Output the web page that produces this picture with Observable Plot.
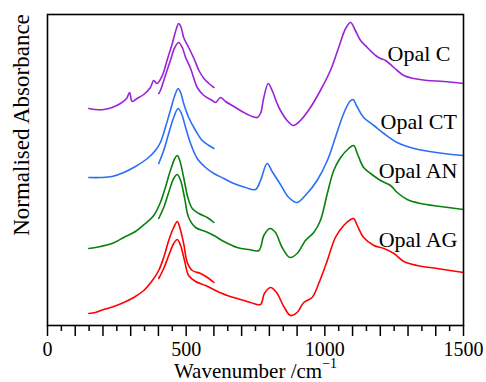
<!DOCTYPE html>
<html><head><meta charset="utf-8">
<script src="https://cdn.jsdelivr.net/npm/d3@7"></script>
<script src="https://cdn.jsdelivr.net/npm/@observablehq/plot@0.6"></script>
<style>html,body{margin:0;padding:0;background:#fff} svg{display:block}</style>
</head><body><div id="chart"></div>
<script>
// wavenumber (cm^-1), stacked normalised absorbance (arbitrary units, offset per sample)
const opalC_far = [[149,217],[173,216],[203,216],[233,218],[263,222],[285,227],[296,233],[305,224],[323,227],[347,231],[371,238],[383,245],[395,242],[414,250],[431,265],[450,282],[465,297],[473,302],[482,298],[491,288],[509,278],[528,267],[546,255],[564,247],[582,242],[600,238]];
const opalC_mid = [[401,232],[407,235],[425,250],[443,265],[459,278],[473,283],[486,278],[498,268],[516,257],[540,238],[564,230],[594,225],[606,223],[624,228],[642,224],[672,219],[708,213],[738,209],[756,208],[768,212],[780,228],[796,242],[810,235],[828,222],[840,215],[864,205],[886,200],[912,205],[948,218],[984,235],[1020,255],[1050,278],[1075,297],[1093,303],[1110,295],[1129,285],[1153,278],[1183,270],[1201,267],[1219,265],[1249,258],[1285,250],[1321,247],[1369,245],[1429,244],[1500,242]];
const opalCT_far = [[149,148],[191,148],[233,149],[275,153],[317,159],[360,167],[389,175],[407,183],[425,198],[443,215],[459,230],[471,237],[480,233],[491,222],[509,208],[534,195],[558,185],[582,180],[600,177]];
const opalCT_mid = [[401,162],[419,175],[437,192],[455,208],[471,217],[483,212],[498,198],[516,182],[540,167],[570,158],[600,152],[636,147],[672,142],[714,138],[750,136],[768,145],[792,162],[810,154],[840,141],[870,128],[900,123],[936,132],[972,145],[1009,165],[1038,188],[1068,212],[1090,224],[1102,226],[1114,220],[1140,208],[1177,200],[1213,192],[1261,183],[1309,178],[1357,175],[1429,172],[1500,170]];
const opalAN_far = [[149,77],[191,79],[233,82],[275,88],[317,94],[353,102],[383,110],[407,123],[425,138],[443,155],[459,167],[468,170],[477,165],[491,148],[506,128],[522,117],[546,112],[576,108],[600,103]];
const opalAN_mid = [[401,107],[419,118],[437,133],[455,147],[468,151],[480,145],[494,128],[509,108],[534,98],[570,94],[600,90],[636,84],[684,78],[726,76],[762,75],[780,90],[802,97],[822,93],[846,78],[874,68],[900,72],[930,85],[960,93],[984,105],[1009,132],[1032,155],[1057,168],[1086,177],[1104,180],[1117,172],[1140,158],[1165,152],[1201,145],[1237,140],[1261,133],[1297,126],[1345,122],[1417,119],[1500,116]];
const opalAG_far = [[149,12],[173,13],[203,16],[239,19],[275,23],[311,28],[347,35],[378,45],[401,55],[419,68],[437,85],[455,98],[468,104],[477,98],[491,82],[504,63],[522,55],[552,52],[582,47],[600,43]];
const opalAG_mid = [[401,47],[419,57],[437,70],[455,82],[468,86],[480,80],[494,65],[509,50],[534,44],[570,40],[606,35],[648,30],[696,26],[732,23],[768,21],[782,32],[804,38],[826,33],[852,19],[876,10],[900,13],[924,23],[954,28],[978,42],[1009,65],[1038,88],[1068,100],[1093,106],[1104,107],[1117,100],[1140,88],[1177,80],[1213,77],[1249,72],[1285,64],[1333,60],[1405,57],[1500,53]];

const seriesNames = ["Opal C", "Opal CT", "Opal AN", "Opal AG"];
const seriesColors = ["#9a22d8", "#2a6ff5", "#0a800f", "#ff0000"];
const labelX = [1226, 1201, 1194, 1194];
const labelY = [272, 204, 155, 86];
const majorTicks = d3.range(0, 1501, 100);
const minorTicks = d3.range(50, 1500, 100);
const labelTicks = [0, 500, 1000, 1500];
const xTitle = "Wavenumber /cm";
const xTitleSup = "\u22121";
const yTitle = "Normalised Absorbance";

const segments = [
  {name: "Opal C", pts: opalC_far}, {name: "Opal C", pts: opalC_mid},
  {name: "Opal CT", pts: opalCT_far}, {name: "Opal CT", pts: opalCT_mid},
  {name: "Opal AN", pts: opalAN_far}, {name: "Opal AN", pts: opalAN_mid},
  {name: "Opal AG", pts: opalAG_far}, {name: "Opal AG", pts: opalAG_mid}
];
const rows = segments.flatMap((s, i) => s.pts.map(([wn, a]) => ({wn, a, seg: i, name: s.name})));

const chart = Plot.plot({
  width: 486, height: 382,
  marginLeft: 47, marginRight: 23, marginTop: 14, marginBottom: 57,
  style: {fontFamily: "'Liberation Serif', 'Times New Roman', serif", fontSize: "21px", color: "black", background: "white"},
  x: {domain: [0, 1500], label: null},
  y: {domain: [0, 311], axis: null},
  color: {domain: seriesNames, range: seriesColors},
  marks: [
    Plot.line(rows, {x: "wn", y: "a", z: "seg", stroke: "name", strokeWidth: 1.6, curve: "catmull-rom"}),
    Plot.axisX({ticks: majorTicks, tickSize: 11, tickFormat: () => "", strokeWidth: 1.5, label: null}),
    Plot.axisX({ticks: minorTicks, tickSize: 6, tickFormat: () => "", strokeWidth: 1.5, label: null}),
    Plot.axisX({ticks: labelTicks, tickSize: 0, tickPadding: 16, fontSize: 20, tickFormat: d => String(d), label: null}),
    Plot.frame({stroke: "black", strokeWidth: 1.6}),
    Plot.text(seriesNames, {x: (d, i) => labelX[i], y: (d, i) => labelY[i], text: d => d, textAnchor: "start", lineAnchor: "middle", fontSize: 22, fill: "black"}),
    Plot.text([xTitle], {frameAnchor: "bottom", text: d => d, textAnchor: "middle", dy: 45.5, lineAnchor: "middle", fontSize: 21, fill: "black"}),
    Plot.text([yTitle], {frameAnchor: "left", text: d => d, rotate: -90, textAnchor: "middle", dx: -26, dy: -45, lineAnchor: "middle", fontSize: 23, fill: "black"})
  ]
});
document.getElementById("chart").appendChild(chart);
d3.select(chart).selectAll("text").filter(function() { return this.textContent === xTitle; })
  .append("tspan").attr("dy", "-0.7em").attr("font-size", 14).text(xTitleSup);
</script>
</body></html>
